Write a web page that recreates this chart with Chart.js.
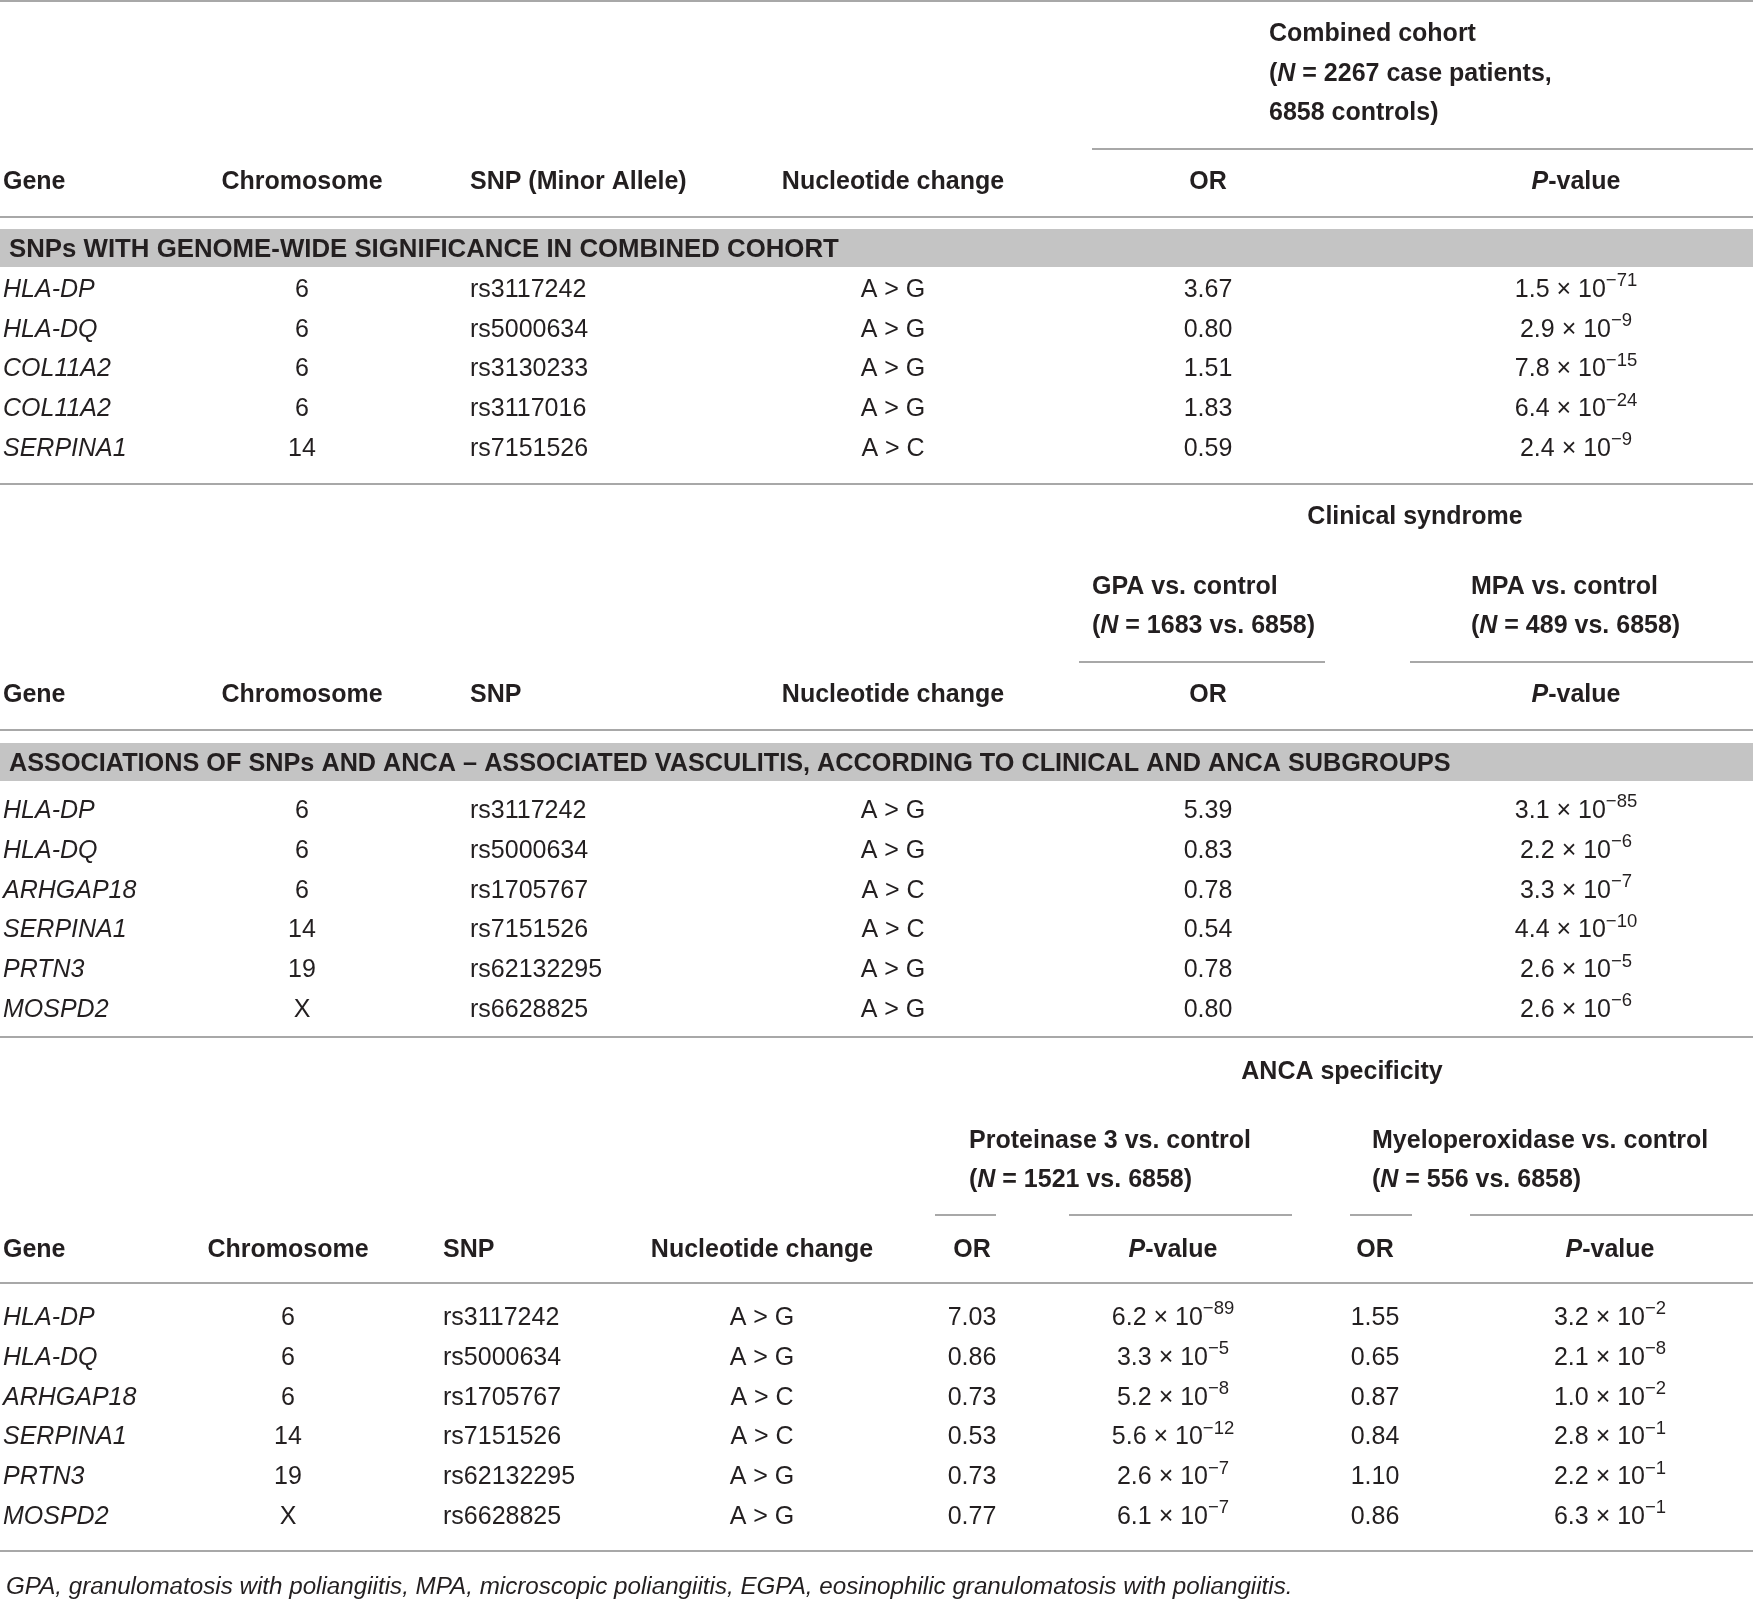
<!DOCTYPE html>
<html><head><meta charset="utf-8">
<script src="https://cdn.jsdelivr.net/npm/chart.js@4.4.0/dist/chart.umd.min.js"></script>
<style>html,body{margin:0;padding:0;background:#fff;overflow:hidden}#wrap{width:1753px;height:1599px;position:relative}</style>
</head><body><div id="wrap"><canvas id="c"></canvas></div>
<script>
// ---------- DATA ----------
const s1Genes = ['HLA-DP','HLA-DQ','COL11A2','COL11A2','SERPINA1'];
const s1Chrom = ['6','6','6','6','14'];
const s1Snp = ['rs3117242','rs5000634','rs3130233','rs3117016','rs7151526'];
const s1Change = ['A > G','A > G','A > G','A > G','A > C'];
const s1OR = [3.67,0.80,1.51,1.83,0.59];
const s1PMant = ['1.5','2.9','7.8','6.4','2.4'];
const s1PExp = [-71,-9,-15,-24,-9];

const s2Genes = ['HLA-DP','HLA-DQ','ARHGAP18','SERPINA1','PRTN3','MOSPD2'];
const s2Chrom = ['6','6','6','14','19','X'];
const s2Snp = ['rs3117242','rs5000634','rs1705767','rs7151526','rs62132295','rs6628825'];
const s2Change = ['A > G','A > G','A > C','A > C','A > G','A > G'];
const s2OR = [5.39,0.83,0.78,0.54,0.78,0.80];
const s2PMant = ['3.1','2.2','3.3','4.4','2.6','2.6'];
const s2PExp = [-85,-6,-7,-10,-5,-6];

const s3Genes = s2Genes, s3Chrom = s2Chrom, s3Snp = s2Snp, s3Change = s2Change;
const s3PR3OR = [7.03,0.86,0.73,0.53,0.73,0.77];
const s3PR3PMant = ['6.2','3.3','5.2','5.6','2.6','6.1'];
const s3PR3PExp = [-89,-5,-8,-12,-7,-7];
const s3MPOOR = [1.55,0.65,0.87,0.84,1.10,0.86];
const s3MPOPMant = ['3.2','2.1','1.0','2.8','2.2','6.3'];
const s3MPOPExp = [-2,-8,-2,-1,-1,-1];

const headers1 = ['Gene','Chromosome','SNP (Minor Allele)','Nucleotide change','OR','P-value'];
const headers2 = ['Gene','Chromosome','SNP','Nucleotide change','OR','P-value'];
const headers3 = ['Gene','Chromosome','SNP','Nucleotide change','OR','P-value','OR','P-value'];
const band1 = 'SNPs WITH GENOME-WIDE SIGNIFICANCE IN COMBINED COHORT';
const band2 = 'ASSOCIATIONS OF SNPs AND ANCA \u2013 ASSOCIATED VASCULITIS, ACCORDING TO CLINICAL AND ANCA SUBGROUPS';
const span1 = ['Combined cohort','(N = 2267 case patients,','6858 controls)'];
const span2Title = 'Clinical syndrome';
const span2Groups = [['GPA vs. control','(N = 1683 vs. 6858)'],['MPA vs. control','(N = 489 vs. 6858)']];
const span3Title = 'ANCA specificity';
const span3Groups = [['Proteinase 3 vs. control','(N = 1521 vs. 6858)'],['Myeloperoxidase vs. control','(N = 556 vs. 6858)']];
const footnote = 'GPA, granulomatosis with poliangiitis, MPA, microscopic poliangiitis, EGPA, eosinophilic granulomatosis with poliangiitis.';

// ---------- LAYOUT / STYLE ----------
const W = 1753, H = 1599;
const FONT = "'Liberation Sans', Arial, sans-serif";
const SIZE = 25, FOOT_SIZE = 24.2, SUP = 0.74;
const INK = '#231f20', RULE = '#a8a8a8', BAND = '#c4c4c4';
const layout = {
  s1: {cols:[[3,'left'],[302,'center'],[470,'left'],[893,'center'],[1208,'center'],[1576,'center']], header:180, first:288, pitch:39.75},
  s2: {cols:[[3,'left'],[302,'center'],[470,'left'],[893,'center'],[1208,'center'],[1576,'center']], header:693, first:809, pitch:39.8},
  s3: {cols:[[3,'left'],[288,'center'],[443,'left'],[762,'center'],[972,'center'],[1173,'center'],[1375,'center'],[1610,'center']], header:1248, first:1316, pitch:39.8},
  rules:[[1,0,W],[149,1092,W],[217,0,W],[484,0,W],[662,1079,1325],[662,1410,W],[730,0,W],[1037,0,W],
         [1215,935,996],[1215,1069,1292],[1215,1350,1412],[1215,1470,W],[1283,0,W],[1551,0,W]],
  bands:[[229,267,band1,248,25.8],[743,781,band2,762,25.25]],
  span1:{x:1269, ys:[32,72,111]},
  span2:{title:[1415,515], groups:[[1092,[585,624]],[1471,[585,624]]]},
  span3:{title:[1342,1070], groups:[[969,[1139,1178]],[1372,[1139,1178]]]},
  foot:[6,1585]
};

function pRuns(m,e){ return [{t:m+' \u00d7 10'},{t:'\u2212'+Math.abs(e), sup:true}]; }
function headerRuns(t){
  if (t === 'P-value') return [{t:'P',b:true,i:true},{t:'-value',b:true}];
  return [{t,b:true}];
}
function nRuns(t){ // "(N = ..." bold with italic N
  if (t.startsWith('(N')) return [{t:'(',b:true},{t:'N',b:true,i:true},{t:t.slice(2),b:true}];
  return [{t,b:true}];
}

function fontOf(r, size){ const s = r.sup ? size*SUP : size; return (r.i?'italic ':'')+(r.b?'bold ':'')+s+'px '+FONT; }
function drawRuns(ctx, runs, x, yc, align, size){
  size = size || SIZE;
  let total = 0; const ws = [];
  runs.forEach(r=>{ ctx.font = fontOf(r,size); const w = ctx.measureText(r.t).width; ws.push(w); total += w; });
  let sx = align==='center' ? x - total/2 : (align==='right' ? x - total : x);
  const base = yc + size*0.716/2;
  ctx.textAlign = 'left'; ctx.textBaseline = 'alphabetic'; ctx.fillStyle = INK;
  runs.forEach((r,k)=>{ ctx.font = fontOf(r,size); ctx.fillText(r.t, sx, r.sup ? base - size*0.42 : base); sx += ws[k]; });
}

// ---------- DATASETS (one per column; each point is a cell) ----------
const datasets = [];
function addColumn(sec, colIdx, texts){
  const L = layout[sec]; const [cx, align] = L.cols[colIdx];
  datasets.push({ data: texts.map((_,i)=>({x:cx, y:L.first + i*L.pitch})), cells: texts, align, pointRadius:0, showLine:false });
}
function addHeader(sec, hdrs){
  const L = layout[sec];
  datasets.push({ data: hdrs.map((_,k)=>({x:L.cols[k][0], y:L.header})), cells: hdrs.map(headerRuns), aligns: L.cols.map(c=>c[1]), pointRadius:0, showLine:false });
}
const R = t => [{t}];
const I = t => [{t,i:true}];
addHeader('s1', headers1);
addColumn('s1',0,s1Genes.map(I)); addColumn('s1',1,s1Chrom.map(R)); addColumn('s1',2,s1Snp.map(R));
addColumn('s1',3,s1Change.map(R)); addColumn('s1',4,s1OR.map(v=>R(v.toFixed(2))));
addColumn('s1',5,s1PMant.map((m,i)=>pRuns(m,s1PExp[i])));
addHeader('s2', headers2);
addColumn('s2',0,s2Genes.map(I)); addColumn('s2',1,s2Chrom.map(R)); addColumn('s2',2,s2Snp.map(R));
addColumn('s2',3,s2Change.map(R)); addColumn('s2',4,s2OR.map(v=>R(v.toFixed(2))));
addColumn('s2',5,s2PMant.map((m,i)=>pRuns(m,s2PExp[i])));
addHeader('s3', headers3);
addColumn('s3',0,s3Genes.map(I)); addColumn('s3',1,s3Chrom.map(R)); addColumn('s3',2,s3Snp.map(R));
addColumn('s3',3,s3Change.map(R)); addColumn('s3',4,s3PR3OR.map(v=>R(v.toFixed(2))));
addColumn('s3',5,s3PR3PMant.map((m,i)=>pRuns(m,s3PR3PExp[i])));
addColumn('s3',6,s3MPOOR.map(v=>R(v.toFixed(2))));
addColumn('s3',7,s3MPOPMant.map((m,i)=>pRuns(m,s3MPOPExp[i])));

// ---------- PLUGIN ----------
const tablePlugin = {
  id:'table',
  beforeDatasetsDraw(chart){
    const ctx = chart.ctx, xs = chart.scales.x, ys = chart.scales.y;
    ctx.save();
    layout.bands.forEach(([y0,y1])=>{
      ctx.fillStyle = BAND;
      const py0 = ys.getPixelForValue(y0), py1 = ys.getPixelForValue(y1);
      ctx.fillRect(xs.getPixelForValue(0), py0, xs.getPixelForValue(W)-xs.getPixelForValue(0), py1-py0);
    });
    ctx.strokeStyle = RULE; ctx.lineWidth = 2;
    layout.rules.forEach(([y,x0,x1])=>{
      const py = Math.round(ys.getPixelForValue(y));
      ctx.beginPath(); ctx.moveTo(xs.getPixelForValue(x0), py); ctx.lineTo(xs.getPixelForValue(x1), py); ctx.stroke();
    });
    ctx.restore();
  },
  afterDatasetsDraw(chart){
    const ctx = chart.ctx, xs = chart.scales.x, ys = chart.scales.y;
    ctx.save();
    chart.data.datasets.forEach((ds,di)=>{
      const meta = chart.getDatasetMeta(di);
      meta.data.forEach((el,j)=>{
        drawRuns(ctx, ds.cells[j], el.x, el.y, ds.aligns ? ds.aligns[j] : ds.align);
      });
    });
    layout.bands.forEach(([y0,y1,txt,yc,sz])=>drawRuns(ctx,[{t:txt,b:true}],xs.getPixelForValue(9),ys.getPixelForValue(yc),'left',sz));
    span1.forEach((t,k)=>drawRuns(ctx,nRuns(t),xs.getPixelForValue(layout.span1.x),ys.getPixelForValue(layout.span1.ys[k]),'left'));
    drawRuns(ctx,[{t:span2Title,b:true}],xs.getPixelForValue(layout.span2.title[0]),ys.getPixelForValue(layout.span2.title[1]),'center');
    span2Groups.forEach((g,k)=>{ const [gx,gy]=layout.span2.groups[k];
      g.forEach((t,m)=>drawRuns(ctx,nRuns(t),xs.getPixelForValue(gx),ys.getPixelForValue(gy[m]),'left')); });
    drawRuns(ctx,[{t:span3Title,b:true}],xs.getPixelForValue(layout.span3.title[0]),ys.getPixelForValue(layout.span3.title[1]),'center');
    span3Groups.forEach((g,k)=>{ const [gx,gy]=layout.span3.groups[k];
      g.forEach((t,m)=>drawRuns(ctx,nRuns(t),xs.getPixelForValue(gx),ys.getPixelForValue(gy[m]),'left')); });
    drawRuns(ctx,[{t:footnote,i:true}],xs.getPixelForValue(layout.foot[0]),ys.getPixelForValue(layout.foot[1]),'left',FOOT_SIZE);
    ctx.restore();
  }
};

new Chart(document.getElementById('c'), {
  type:'scatter',
  data:{datasets},
  options:{
    responsive:true, maintainAspectRatio:false, animation:false, devicePixelRatio:1,
    layout:{padding:0},
    plugins:{legend:{display:false}, tooltip:{enabled:false}},
    events:[],
    scales:{
      x:{type:'linear', min:0, max:W, display:false},
      y:{type:'linear', min:0, max:H, reverse:true, display:false}
    }
  },
  plugins:[tablePlugin]
});
</script></body></html>
